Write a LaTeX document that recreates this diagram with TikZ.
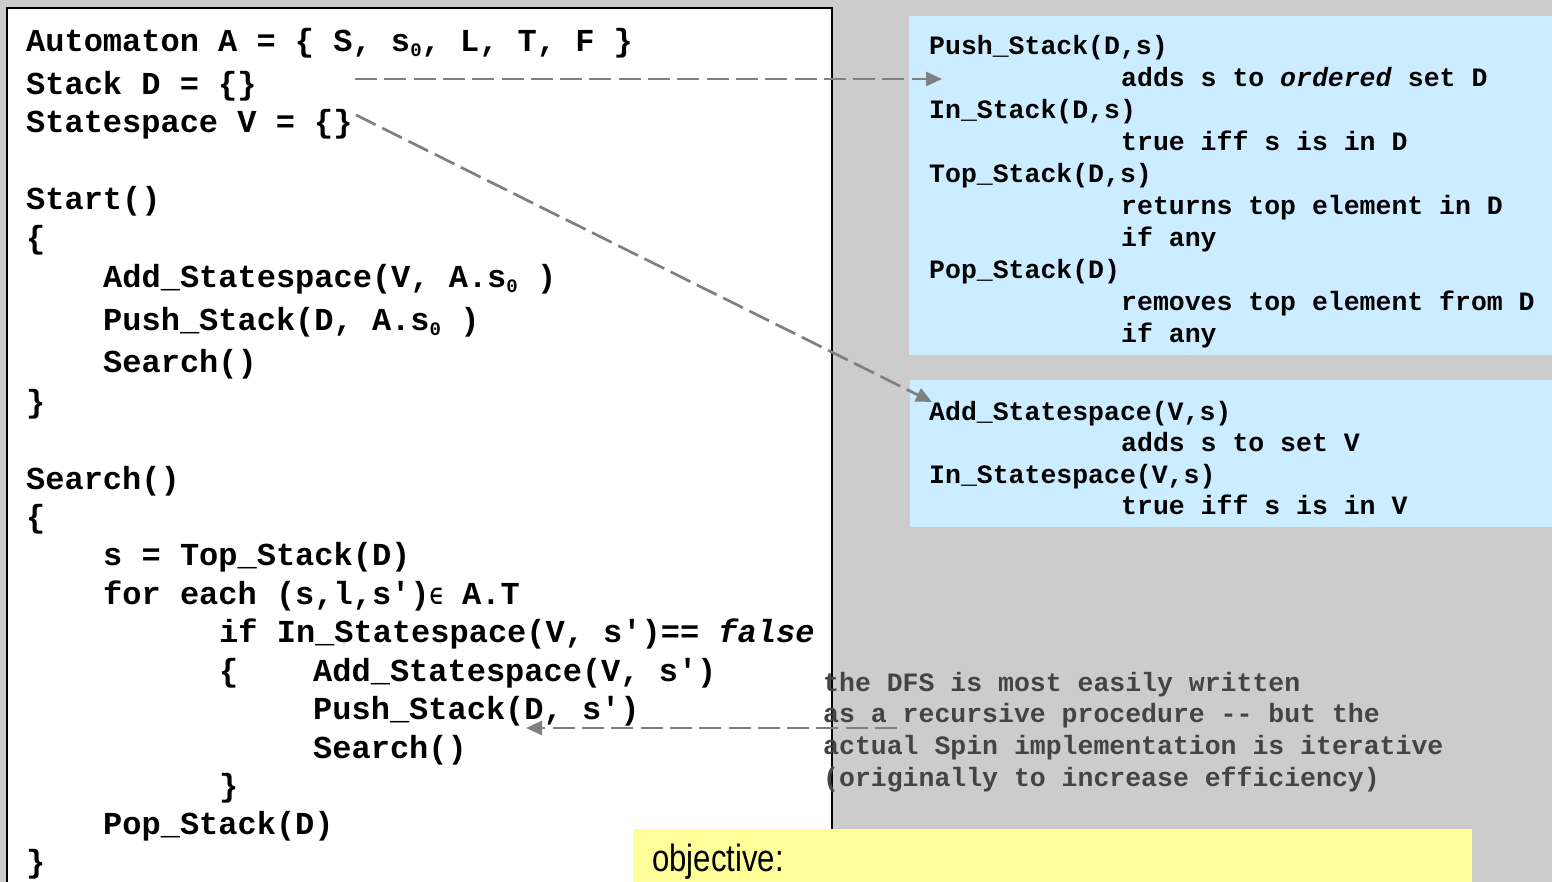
\documentclass[tikz,border=0pt]{standalone}
\usepackage{fontspec}
\setmainfont{Liberation Sans}
\setmonofont{Liberation Mono}
\newfontfamily\symfont{DejaVu Sans Mono}
\newfontfamily\objfont[FakeStretch=0.82]{Liberation Sans}
\usetikzlibrary{arrows.meta}
\definecolor{bggray}{HTML}{CCCCCC}
\definecolor{boxblue}{HTML}{CCECFF}
\definecolor{noteyellow}{HTML}{FFFF99}
\definecolor{arrowgray}{HTML}{808080}
\definecolor{notetext}{HTML}{444444}
\newcommand{\subzero}{\raisebox{-5pt}{\fontsize{19}{19}\selectfont 0}}
\newcommand{\elem}{{\symfont\fontsize{22}{22}\selectfont ∈}}
\begin{document}
\begin{tikzpicture}[x=1pt,y=-1pt,
  code/.style={anchor=base west, inner sep=0pt, font=\ttfamily\bfseries\fontsize{32}{38}\selectfont},
  spec/.style={anchor=base west, inner sep=0pt, font=\ttfamily\bfseries\fontsize{26.5}{32}\selectfont},
  note/.style={spec, text=notetext},
  link/.style={draw=arrowgray, line width=2.7pt, dash pattern=on 22pt off 7.3pt, -{Triangle[length=16pt,width=14pt]}},
]
\useasboundingbox (0,0) rectangle (1552,882);
\clip (0,0) rectangle (1552,882);
\fill[bggray] (0,0) rectangle (1552,882);
% code box
\draw[fill=white, line width=2.3pt] (7,8) rectangle (832,900);
% spec boxes
\fill[boxblue] (909,16) rectangle (1560,355);
\fill[boxblue] (910,380) rectangle (1560,527);
% objective box
\fill[noteyellow] (633,829) rectangle (1472,900);

% code lines
\node[code] (l1) at (26,52) {Automaton A = \{ S, s\subzero, L, T, F \}};
\node[code] (l2) at (26,95) {Stack D = \{\}};
\node[code] (l3) at (26,133) {Statespace V = \{\}};
\node[code] (l4) at (26,210) {Start()};
\node[code] (l5) at (26,249) {\{};
\node[code] (l6) at (103,288) {Add\_Statespace(V, A.s\subzero\ )};
\node[code] (l7) at (103,331) {Push\_Stack(D, A.s\subzero\ )};
\node[code] (l8) at (103,373) {Search()};
\node[code] (l9) at (26,412) {\}};
\node[code] (l10) at (26,489) {Search()};
\node[code] (l11) at (26,527) {\{};
\node[code] (l12) at (103,565.5) {s = Top\_Stack(D)};
\node[code] (l13) at (103,604) {for each (s,l,s')\elem\ A.T};
\node[code] (l14) at (219,642.5) {if In\_Statespace(V, s')== \textit{false}};
\node[code] (l15) at (219,681) {\{};
\node[code] (l16) at (313,681) {Add\_Statespace(V, s')};
\node[code] (l17) at (313,719.5) {Push\_Stack(D, s')};
\node[code] (l18) at (313,758) {Search()};
\node[code] (l19) at (219,796) {\}};
\node[code] (l20) at (103,834) {Pop\_Stack(D)};
\node[code] (l21) at (26,872) {\}};

% spec box 1
\node[spec] (r1) at (929,55) {Push\_Stack(D,s)};
\node[spec] (r2) at (1121,87) {adds s to \textit{ordered} set D};
\node[spec] (r3) at (929,119) {In\_Stack(D,s)};
\node[spec] (r4) at (1121,151) {true iff s is in D};
\node[spec] (r5) at (929,183) {Top\_Stack(D,s)};
\node[spec] (r6) at (1121,215) {returns top element in D};
\node[spec] (r7) at (1121,247) {if any};
\node[spec] (r8) at (929,279) {Pop\_Stack(D)};
\node[spec] (r9) at (1121,311) {removes top element from D};
\node[spec] (r10) at (1121,343) {if any};
% spec box 2
\node[spec] (v1) at (929,420) {Add\_Statespace(V,s)};
\node[spec] (v2) at (1121,451) {adds s to set V};
\node[spec] (v3) at (929,483) {In\_Statespace(V,s)};
\node[spec] (v4) at (1121,514) {true iff s is in V};

% note
\node[note] (n1) at (823,691) {the DFS is most easily written};
\node[note] (n2) at (823,722) {as a recursive procedure -- but the};
\node[note] (n3) at (823,754) {actual Spin implementation is iterative};
\node[note] (n4) at (823,786) {(originally to increase efficiency)};

% objective
\node[anchor=base west, inner sep=0pt, font=\objfont\fontsize{38}{44}\selectfont] (obj) at (652,871) {objective:};

% arrows
\coordinate (a1s) at (355,79);
\coordinate (a1e) at (942,79);
\coordinate (a2s) at (356,115);
\coordinate (a2e) at (932,402);
\coordinate (a3s) at (897,728);
\coordinate (a3e) at (526,728);
\draw[link] (a1s) -- (a1e);
\draw[link] (a2s) -- (a2e);
\draw[link] (a3s) -- (a3e);
\end{tikzpicture}
\end{document}
